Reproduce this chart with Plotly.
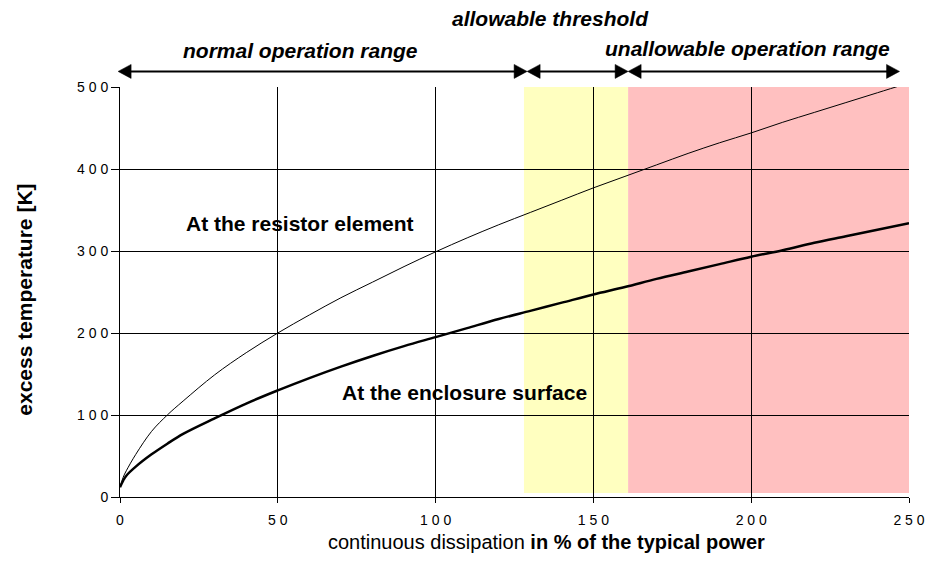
import plotly.graph_objects as go

# ---- data ----
x_pct = [0, 1, 2, 5, 10, 15, 20, 30, 40, 50, 60, 70, 80, 90, 100, 110, 120, 130,
         140, 150, 160, 170, 180, 190, 200, 210, 220, 230, 240, 250]
t_resistor = [12, 24, 32, 52, 80, 100, 117, 149, 176, 200, 222, 243, 262, 281, 299,
              316, 332, 347, 362, 377, 391, 405, 419, 432, 444, 457, 469, 481, 493, 505]
t_enclosure = [12, 20, 26, 37, 52, 65, 77, 96, 114, 130, 145, 159, 172, 184, 195,
               206, 217, 227, 237, 247, 256, 266, 275, 284, 293, 301, 310, 318, 326, 334]

x_ticks = [0, 50, 100, 150, 200, 250]
y_ticks = [0, 100, 200, 300, 400, 500]
x_ticktext = ["0", "5 0", "1 0 0", "1 5 0", "2 0 0", "2 5 0"]
y_ticktext = ["0", "1 0 0", "2 0 0", "3 0 0", "4 0 0", "5 0 0"]

threshold_start = 128
threshold_end = 161
x_max = 250
band_bottom = 5
band_top = 500
range_bounds = [-0.6, 129, 161, 247]   # arrow limits: normal | allowable | unallowable

FONT = "Liberation Sans, Arial, sans-serif"
X_RANGE = [0, 250]

fig = go.Figure()

fig.add_trace(go.Scatter(x=x_pct, y=t_resistor, mode="lines", line_shape="spline",
                         line=dict(color="black", width=1), showlegend=False,
                         hoverinfo="skip"))
fig.add_trace(go.Scatter(x=x_pct, y=t_enclosure, mode="lines", line_shape="spline",
                         line=dict(color="black", width=2.5), showlegend=False,
                         hoverinfo="skip"))

# background bands
fig.add_shape(type="rect", xref="x", yref="y", x0=threshold_start, x1=threshold_end,
              y0=band_bottom, y1=band_top, fillcolor="rgb(255,255,192)",
              line=dict(width=0), layer="below")
fig.add_shape(type="rect", xref="x", yref="y", x0=threshold_end, x1=x_max + 0.5,
              y0=band_bottom, y1=band_top, fillcolor="rgb(255,192,192)",
              line=dict(width=0), layer="below")

# double-headed arrows above the plot (paper coordinates derived from data x)
def px(v):
    return (v - X_RANGE[0]) / (X_RANGE[1] - X_RANGE[0])

ARROW_Y = 1.038
HEAD_L = 13 / 789.0
HEAD_H = 7 / 410.0
for a, b in zip(range_bounds[:-1], range_bounds[1:]):
    xa, xb = px(a), px(b)
    fig.add_shape(type="line", xref="paper", yref="paper", x0=xa + HEAD_L * 0.5,
                  x1=xb - HEAD_L * 0.5, y0=ARROW_Y, y1=ARROW_Y,
                  line=dict(color="black", width=2))
    fig.add_shape(type="path", xref="paper", yref="paper",
                  path=f"M {xa} {ARROW_Y} L {xa + HEAD_L} {ARROW_Y + HEAD_H} "
                       f"L {xa + HEAD_L} {ARROW_Y - HEAD_H} Z",
                  fillcolor="black", line=dict(color="black", width=0.5))
    fig.add_shape(type="path", xref="paper", yref="paper",
                  path=f"M {xb} {ARROW_Y} L {xb - HEAD_L} {ARROW_Y + HEAD_H} "
                       f"L {xb - HEAD_L} {ARROW_Y - HEAD_H} Z",
                  fillcolor="black", line=dict(color="black", width=0.5))

lab_font = dict(family=FONT, size=21, color="black")
annos = [
    dict(text="<b><i>allowable threshold</i></b>", x=0.545, y=1.166),
    dict(text="<b><i>normal operation range</i></b>", x=0.229, y=1.088),
    dict(text="<b><i>unallowable operation range</i></b>", x=0.795, y=1.093),
]
for a in annos:
    fig.add_annotation(text=a["text"], x=a["x"], y=a["y"], xref="paper", yref="paper",
                       showarrow=False, font=lab_font, xanchor="center", yanchor="middle")

fig.add_annotation(text="<b>At the resistor element</b>", x=57, y=333, xref="x", yref="y",
                   showarrow=False, font=lab_font, xanchor="center", yanchor="middle")
fig.add_annotation(text="<b>At the enclosure surface</b>", x=109, y=128, xref="x", yref="y",
                   showarrow=False, font=lab_font, xanchor="center", yanchor="middle")

fig.add_annotation(text="continuous dissipation <b>in % of the typical power</b>",
                   x=0.54, y=-0.11, xref="paper", yref="paper", showarrow=False,
                   font=dict(family=FONT, size=20, color="black"),
                   xanchor="center", yanchor="middle")
fig.add_annotation(text="<b>excess temperature [K]</b>", x=-0.121, y=0.48,
                   xref="paper", yref="paper", showarrow=False, textangle=-90,
                   font=dict(family=FONT, size=21, color="black"),
                   xanchor="center", yanchor="middle")

fig.update_xaxes(range=X_RANGE, tickvals=x_ticks, ticktext=x_ticktext,
                 showgrid=True, gridcolor="black", gridwidth=1, zeroline=False,
                 showline=True, linecolor="black", linewidth=1,
                 ticks="outside", ticklen=5, tickcolor="black", ticklabelstandoff=5,
                 tickfont=dict(family=FONT, size=14, color="black"))
fig.update_yaxes(range=[0, 500], tickvals=y_ticks, ticktext=y_ticktext,
                 showgrid=True, gridcolor="black", gridwidth=1, zeroline=False,
                 showline=True, linecolor="black", linewidth=1,
                 ticks="outside", ticklen=8, tickcolor="black",
                 tickfont=dict(family=FONT, size=14, color="black"))

# page body has an 8px margin, so the figure is sized to fit inside the window
fig.update_layout(width=935, height=554, plot_bgcolor="white", paper_bgcolor="white",
                  margin=dict(l=112, r=34, t=79, b=65), showlegend=False)

fig.write_html("out.html")
